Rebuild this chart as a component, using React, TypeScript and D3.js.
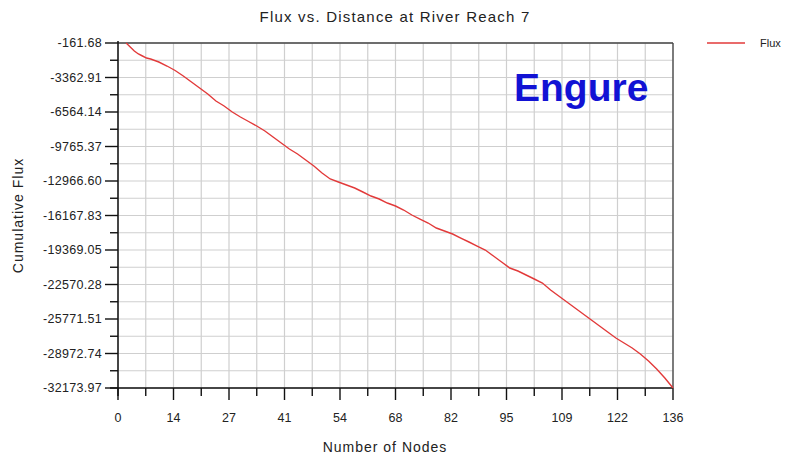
import React from "react";
import * as d3 from "d3";

const nodes = [2, 3, 4, 5, 6, 7, 8, 10, 12, 14, 16, 18, 20, 22, 24, 26, 28, 30, 32, 34, 36, 38, 40, 42, 44, 46, 48, 50, 52, 54, 56, 58, 60, 62, 64, 66, 68, 70, 72, 74, 76, 78, 80, 82, 84, 86, 88, 90, 92, 94, 96, 98, 100, 102, 104, 106, 108, 110, 112, 114, 116, 118, 120, 122, 124, 126, 128, 130, 132, 134, 136];
const flux = [-161.68, -533, -904, -1182, -1368, -1554, -1646, -1925, -2296, -2713, -3224, -3781, -4337, -4894, -5544, -6007, -6564, -7028, -7446, -7863, -8327, -8884, -9441, -9997, -10461, -11018, -11575, -12224, -12781, -13060, -13338, -13616, -13987, -14359, -14637, -15009, -15287, -15658, -16122, -16493, -16864, -17328, -17607, -17885, -18256, -18627, -18999, -19370, -19926, -20483, -21040, -21318, -21689, -22060, -22431, -23081, -23638, -24194, -24751, -25308, -25864, -26421, -26978, -27535, -27999, -28463, -29019, -29669, -30411, -31246, -32173.97];

const yTickLabels = ["-161.68", "-3362.91", "-6564.14", "-9765.37", "-12966.60", "-16167.83", "-19369.05", "-22570.28", "-25771.51", "-28972.74", "-32173.97"];
const xTickLabels = ["0", "14", "27", "41", "54", "68", "82", "95", "109", "122", "136"];

const W = 787, H = 462;
const left = 118, right = 673, top = 43, bottom = 388;

export default function App() {
  const x = d3.scaleLinear().domain([0, 136]).range([left, right]);
  const y = d3.scaleLinear().domain([-32173.97, -161.68]).range([bottom, top]);
  const xMajor = xTickLabels.map((_, i) => (i * 136) / 10);
  const yMajor = yTickLabels.map((s) => +s);
  const xMinor = d3.range(0, 21).map((i) => (i * 136) / 20);
  const yMinor = d3.range(0, 21).map((i) => -161.68 - (i * (32173.97 - 161.68)) / 20);
  const line = d3
    .line<number>()
    .x((_, i) => x(nodes[i]))
    .y((d) => y(d));
  const font = "'Liberation Sans', Arial, sans-serif";
  const textCol = "#222";
  return (
    <svg width={W} height={H} style={{ position: "absolute", left: 0, top: 0, background: "#fff" }} fontFamily={font}>
      <rect x={0} y={0} width={W} height={H} fill="#fff" />
      {xMinor.map((v, i) => (
        <line key={"gx" + i} x1={x(v)} x2={x(v)} y1={top} y2={bottom} stroke="#cfcfcf" strokeWidth={1.2} />
      ))}
      {yMinor.map((v, i) => (
        <line key={"gy" + i} x1={left} x2={right} y1={y(v)} y2={y(v)} stroke="#cfcfcf" strokeWidth={1.2} />
      ))}
      <line x1={left} x2={right} y1={top} y2={top} stroke="#444" strokeWidth={1.3} />
      <line x1={right} x2={right} y1={top} y2={bottom} stroke="#444" strokeWidth={1.3} />
      <line x1={left} x2={left} y1={top - 2} y2={bottom + 8} stroke="#111" strokeWidth={1.5} />
      <line x1={left - 8} x2={right} y1={bottom} y2={bottom} stroke="#111" strokeWidth={1.5} />
      {yMinor.map((v, i) => (
        <line key={"ty" + i} x1={i % 2 === 0 ? left - 13 : left - 8} x2={left} y1={y(v)} y2={y(v)} stroke="#111" strokeWidth={1.4} />
      ))}
      {xMinor.map((v, i) => (
        <line key={"tx" + i} x1={x(v)} x2={x(v)} y1={bottom} y2={i % 2 === 0 ? bottom + 12 : bottom + 8} stroke="#111" strokeWidth={1.4} />
      ))}
      {yMajor.map((v, i) => (
        <text key={"ly" + i} x={left - 16} y={y(v)} dy="0.35em" textAnchor="end" fontSize={12.5} letterSpacing={0.3} fill={textCol}>
          {yTickLabels[i]}
        </text>
      ))}
      {xMajor.map((v, i) => (
        <text key={"lx" + i} x={x(v)} y={418} dy="0.35em" textAnchor="middle" fontSize={12.5} fill={textCol}>
          {xTickLabels[i]}
        </text>
      ))}
      <path d={line(flux) || ""} fill="none" stroke="#e23a3a" strokeWidth={1.4} />
      <text x={395} y={17} dy="0.35em" textAnchor="middle" fontSize={15} letterSpacing={1.2} fill={textCol}>
        Flux vs. Distance at River Reach 7
      </text>
      <text x={385} y={447} dy="0.35em" textAnchor="middle" fontSize={14} letterSpacing={1} fill={textCol}>
        Number of Nodes
      </text>
      <text transform={`translate(18,${(top + bottom) / 2}) rotate(-90)`} dy="0.35em" textAnchor="middle" fontSize={14} letterSpacing={1} fill={textCol}>
        Cumulative Flux
      </text>
      <text x={514} y={101} fontSize={39} fontWeight="bold" fill="#1212d4">
        Engure
      </text>
      <line x1={707} x2={745} y1={43} y2={43} stroke="#e23a3a" strokeWidth={1.6} />
      <text x={760} y={43} dy="0.35em" fontSize={11} fill={textCol}>
        Flux
      </text>
    </svg>
  );
}
